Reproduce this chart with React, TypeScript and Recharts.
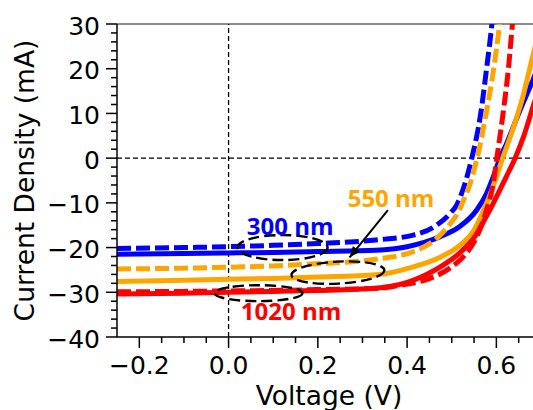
import React from 'react';
import { LineChart, Line, XAxis, YAxis, ReferenceLine, ReferenceDot, Label } from 'recharts';

// J-V curves, voltage (V) vs current density (mA)
const blueDashed = [
  { v: -0.25, j: -20.2 }, { v: -0.1, j: -20.0 }, { v: 0, j: -19.8 }, { v: 0.1, j: -19.5 },
  { v: 0.2, j: -19.1 }, { v: 0.33, j: -18.3 }, { v: 0.414, j: -17.2 }, { v: 0.466, j: -15.0 },
  { v: 0.496, j: -12.4 }, { v: 0.511, j: -10.5 }, { v: 0.532, j: -4.9 }, { v: 0.545, j: 0 },
  { v: 0.565, j: 10 }, { v: 0.578, j: 20 }, { v: 0.59, j: 30 }, { v: 0.592, j: 32 },
];
const blueSolid = [
  { v: -0.25, j: -21.5 }, { v: -0.1, j: -21.3 }, { v: 0, j: -21.2 }, { v: 0.1, j: -21.1 },
  { v: 0.2, j: -20.9 }, { v: 0.33, j: -20.6 }, { v: 0.4, j: -19.8 }, { v: 0.44, j: -18.8 },
  { v: 0.473, j: -17.6 }, { v: 0.518, j: -15.3 }, { v: 0.556, j: -11.6 }, { v: 0.578, j: -7.9 },
  { v: 0.593, j: -4.2 }, { v: 0.608, j: 0 }, { v: 0.623, j: 3.3 }, { v: 0.65, j: 10 },
  { v: 0.682, j: 17.5 }, { v: 0.7, j: 22 },
];
const orangeDashed = [
  { v: -0.25, j: -24.8 }, { v: -0.1, j: -24.6 }, { v: 0, j: -24.4 }, { v: 0.1, j: -24.1 },
  { v: 0.2, j: -23.6 }, { v: 0.33, j: -22.6 }, { v: 0.414, j: -20.9 }, { v: 0.47, j: -17.6 },
  { v: 0.498, j: -14.5 }, { v: 0.515, j: -12.0 }, { v: 0.526, j: -9.5 }, { v: 0.539, j: -6.4 },
  { v: 0.552, j: -1.9 }, { v: 0.557, j: 0 }, { v: 0.577, j: 10 }, { v: 0.594, j: 20 },
  { v: 0.607, j: 30 }, { v: 0.609, j: 32 },
];
const orangeSolid = [
  { v: -0.25, j: -27.6 }, { v: -0.1, j: -27.3 }, { v: 0, j: -27.1 }, { v: 0.1, j: -26.9 },
  { v: 0.2, j: -26.6 }, { v: 0.33, j: -26.1 }, { v: 0.414, j: -24.3 }, { v: 0.473, j: -22.2 },
  { v: 0.518, j: -19.5 }, { v: 0.55, j: -16.1 }, { v: 0.568, j: -12.4 }, { v: 0.584, j: -8.6 },
  { v: 0.599, j: -4.5 }, { v: 0.614, j: 0 }, { v: 0.632, j: 5 }, { v: 0.66, j: 14 },
  { v: 0.682, j: 23 }, { v: 0.7, j: 30 },
];
const redDashed = [
  { v: -0.25, j: -29.9 }, { v: -0.1, j: -29.8 }, { v: 0, j: -29.7 }, { v: 0.1, j: -29.6 },
  { v: 0.2, j: -29.4 }, { v: 0.34, j: -29.1 }, { v: 0.384, j: -28.4 }, { v: 0.451, j: -26.9 },
  { v: 0.5, j: -24.3 }, { v: 0.53, j: -21.6 }, { v: 0.556, j: -17.6 }, { v: 0.578, j: -11.6 },
  { v: 0.593, j: -5.7 }, { v: 0.601, j: 0 }, { v: 0.615, j: 10 }, { v: 0.627, j: 20 },
  { v: 0.636, j: 30 }, { v: 0.638, j: 32 },
];
const redSolid = [
  { v: -0.25, j: -30.4 }, { v: -0.1, j: -30.2 }, { v: 0, j: -30.0 }, { v: 0.1, j: -29.8 },
  { v: 0.2, j: -29.6 }, { v: 0.33, j: -29.1 }, { v: 0.4, j: -27.8 }, { v: 0.44, j: -26.2 },
  { v: 0.48, j: -24.0 }, { v: 0.52, j: -21.0 }, { v: 0.552, j: -17.5 }, { v: 0.575, j: -13.5 },
  { v: 0.593, j: -10.1 }, { v: 0.621, j: -4.4 }, { v: 0.642, j: 0 }, { v: 0.661, j: 4.8 },
  { v: 0.682, j: 11.5 }, { v: 0.7, j: 17 },
];

const xMajor = [-0.2, 0, 0.2, 0.4, 0.6];
const xTicks = [-0.2, -0.15, -0.1, -0.05, 0, 0.05, 0.1, 0.15, 0.2, 0.25, 0.3, 0.35, 0.4, 0.45, 0.5, 0.55, 0.6, 0.65, 0.7];
const yMajor = [-40, -30, -20, -10, 0, 10, 20, 30];
const yTicks = [-40, -38, -36, -34, -32, -30, -28, -26, -24, -22, -20, -18, -16, -14, -12, -10, -8, -6, -4, -2,
  0, 2, 4, 6, 8, 10, 12, 14, 16, 18, 20, 22, 24, 26, 28, 30];

// annotations (data coords)
const labels = [
  { text: '300 nm', v: 0.138, j: -17.2, color: '#0000ff' },
  { text: '550 nm', v: 0.364, j: -10.9, color: '#ffa500' },
  { text: '1020 nm', v: 0.14, j: -36.2, color: '#ff0000' },
];
const ellipses = [
  { v: 0.121, j: -20.0, rx: 45, ry: 12.5, rot: 0 },
  { v: 0.245, j: -25.6, rx: 46.5, ry: 11, rot: -3 },
  { v: 0.067, j: -30.2, rx: 44, ry: 8, rot: 0 },
];
const arrowTail = { v: 0.357, j: -11.6 };
const arrowTip = { v: 0.271, j: -22.2 };

const FONT = 'DejaVu Sans';
const minus = (s: string) => s.replace('-', '\u2212');
const isIn = (arr: number[], v: number) => arr.some(a => Math.abs(a - v) < 1e-6);

const XTick = (props: any) => {
  const { x, y, payload } = props;
  const major = isIn(xMajor, payload.value);
  return (
    <g>
      <line x1={x} x2={x} y1={y} y2={y + (major ? 11 : 6)} stroke="#000" strokeWidth={1.5} />
      {major && (
        <text x={x} y={y + 36.5} textAnchor="middle" fontSize={25} fontFamily={FONT} fill="#000">
          {minus(payload.value.toFixed(1))}
        </text>
      )}
    </g>
  );
};

const YTick = (props: any) => {
  const { x, y, payload } = props;
  const major = isIn(yMajor, payload.value);
  return (
    <g>
      <line x1={x - (major ? 11 : 6)} x2={x} y1={y} y2={y} stroke="#000" strokeWidth={1.5} />
      {major && (
        <text x={x - 17} y={y + 10.5} textAnchor="end" fontSize={25} fontFamily={FONT} fill="#000">
          {minus(String(payload.value))}
        </text>
      )}
    </g>
  );
};

const arrowAngle = (Math.atan2(47.3, -38.3) * 180) / Math.PI;

export default function App() {
  return (
    <div style={{ position: 'fixed', left: 0, top: 0, width: 533, height: 410, overflow: 'hidden', background: '#fff' }}>
      <LineChart width={548} height={410} margin={{ top: 24, right: 7, bottom: 0, left: 0 }}>
        <XAxis
          type="number"
          dataKey="v"
          domain={[-0.25, 0.7]}
          allowDataOverflow
          ticks={xTicks}
          interval={0}
          tick={<XTick />}
          tickLine={false}
          tickSize={0}
          tickMargin={0}
          height={73}
          axisLine={{ stroke: '#000', strokeWidth: 1.5 }}
        >
          <Label
            content={(p: any) => {
              const vb = p.viewBox;
              return (
                <text x={vb.x + vb.width / 2} y={405} textAnchor="middle" fontSize={26.5} fontFamily={FONT} fill="#000">
                  Voltage (V)
                </text>
              );
            }}
          />
        </XAxis>
        <YAxis
          type="number"
          domain={[-40, 30]}
          allowDataOverflow
          ticks={yTicks}
          interval={0}
          tick={<YTick />}
          tickLine={false}
          tickSize={0}
          tickMargin={0}
          width={117}
          axisLine={{ stroke: '#000', strokeWidth: 1.5 }}
        >
          <Label
            content={(p: any) => {
              const vb = p.viewBox;
              const cy = vb.y + vb.height / 2;
              return (
                <text x={33.5} y={cy} transform={`rotate(-90, 33.5, ${cy})`} textAnchor="middle" fontSize={26.5} fontFamily={FONT} fill="#000">
                  Current Density (mA)
                </text>
              );
            }}
          />
        </YAxis>

        <ReferenceLine y={30} stroke="#666" strokeWidth={1.5} />
        <ReferenceLine x={0} stroke="#000" strokeWidth={1.3} strokeDasharray="5 3" />
        <ReferenceLine y={0} stroke="#000" strokeWidth={1.3} strokeDasharray="5 3" />

        <Line data={blueDashed} dataKey="j" type="monotone" stroke="#0000ff" strokeWidth={5} strokeDasharray="14 5" dot={false} isAnimationActive={false} />
        <Line data={blueSolid} dataKey="j" type="monotone" stroke="#0000ff" strokeWidth={5} dot={false} isAnimationActive={false} />
        <Line data={orangeDashed} dataKey="j" type="monotone" stroke="#ffa500" strokeWidth={5} strokeDasharray="14 5" dot={false} isAnimationActive={false} />
        <Line data={orangeSolid} dataKey="j" type="monotone" stroke="#ffa500" strokeWidth={5} dot={false} isAnimationActive={false} />
        <Line data={redDashed} dataKey="j" type="monotone" stroke="#ff0000" strokeWidth={5} strokeDasharray="14 5" dot={false} isAnimationActive={false} />
        <Line data={redSolid} dataKey="j" type="monotone" stroke="#ff0000" strokeWidth={5} dot={false} isAnimationActive={false} />

        {ellipses.map((e, i) => (
          <ReferenceDot
            key={`el-${i}`}
            x={e.v}
            y={e.j}
            r={1}
            shape={(p: any) => (
              <ellipse
                cx={p.cx}
                cy={p.cy}
                rx={e.rx}
                ry={e.ry}
                transform={`rotate(${e.rot}, ${p.cx}, ${p.cy})`}
                fill="none"
                stroke="#000"
                strokeWidth={2.4}
                strokeDasharray="11 5"
              />
            )}
          />
        ))}

        <ReferenceLine
          segment={[{ x: arrowTail.v, y: arrowTail.j }, { x: arrowTip.v, y: arrowTip.j }]}
          stroke="#000"
          strokeWidth={2}
        />
        <ReferenceDot
          x={arrowTip.v}
          y={arrowTip.j}
          r={1}
          shape={(p: any) => (
            <polygon
              points="0,0 -11,-4.5 -11,4.5"
              transform={`translate(${p.cx}, ${p.cy}) rotate(${arrowAngle})`}
              fill="#000"
            />
          )}
        />

        {labels.map((l, i) => (
          <ReferenceDot
            key={`lb-${i}`}
            x={l.v}
            y={l.j}
            r={1}
            shape={(p: any) => (
              <text x={p.cx} y={p.cy} textAnchor="middle" fontSize={24} fontWeight="bold" fontFamily="Open Sans" fill={l.color}>
                {l.text}
              </text>
            )}
          />
        ))}
      </LineChart>
    </div>
  );
}
